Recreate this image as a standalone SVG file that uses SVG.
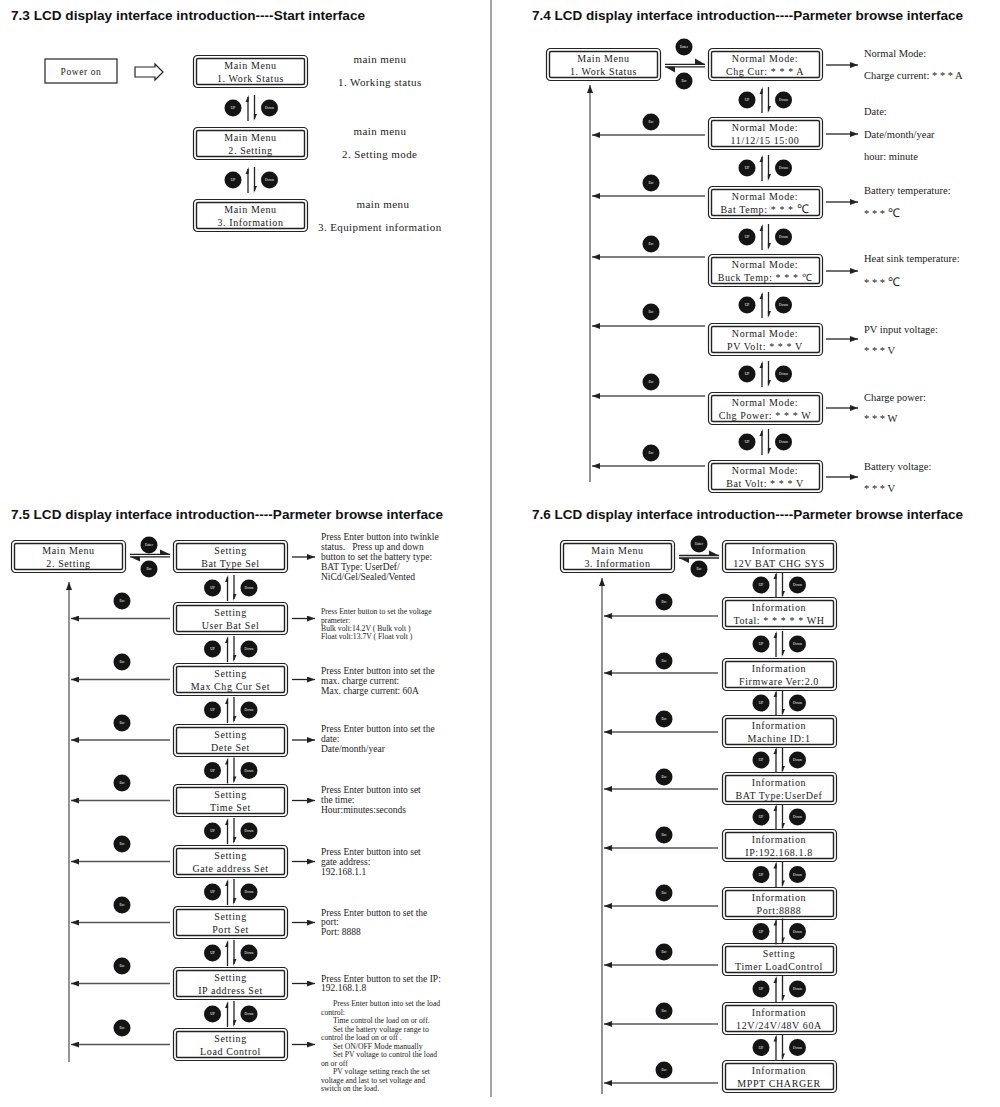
<svg xmlns="http://www.w3.org/2000/svg" xmlns:xlink="http://www.w3.org/1999/xlink" width="1000" height="1107" viewBox="0 0 1000 1107">
<style>
.ob{fill:#fff;stroke:#222;stroke-width:1.2}
.ib{fill:none;stroke:#222;stroke-width:1.4}
.bx{font-family:"Liberation Serif",serif;font-size:10px;fill:#222;text-anchor:middle;letter-spacing:0.6px}
.rt{font-family:"Liberation Serif",serif;font-size:10.5px;fill:#222}
.rm{font-family:"Liberation Serif",serif;font-size:11px;fill:#222;letter-spacing:0.4px}
.r5{font-family:"Liberation Serif",serif;font-size:9.5px;fill:#222}
.r7{font-family:"Liberation Serif",serif;font-size:7.7px;fill:#222}
.btn{fill:#141414}
.bt{font-family:"Liberation Serif",serif;font-size:3.6px;fill:#fff;text-anchor:middle}
.ti{font-family:"Liberation Sans",Arial,sans-serif;font-weight:bold;font-size:12.5px;fill:#111}
.ln{stroke:#222;stroke-width:1.3;fill:none}
.gl{stroke:#555;stroke-width:1.3;fill:none}
.vl{stroke:#888;stroke-width:1.8;fill:none}
.hd{fill:#222}
</style>
<defs>
<marker id="ah" viewBox="0 0 8 6" markerWidth="8" markerHeight="6" refX="8" refY="3" orient="auto" markerUnits="userSpaceOnUse"><path d="M0,0 L8,3 L0,6 z" fill="#222"/></marker>
<g id="lcd"><rect x="0.5" y="0.5" width="114" height="32" rx="4" class="ob"/><rect x="3.5" y="3.5" width="108" height="26" rx="1.5" class="ib"/></g>
<g id="ud">
<circle cx="-18" cy="0" r="8.5" class="btn"/><text x="-18" y="1.3" class="bt">UP</text>
<circle cx="18.5" cy="0" r="8.5" class="btn"/><text x="18.5" y="1.3" class="bt">Down</text>
<line x1="-3" y1="-11" x2="-3" y2="13" class="ln"/><path d="M-2.4,-13 L-5.5,-6 L-2.4,-6 z" class="hd"/>
<line x1="3.5" y1="-13" x2="3.5" y2="11" class="ln"/><path d="M2.9,13 L6,6 L2.9,6 z" class="hd"/>
</g>
<g id="esc"><circle r="8.5" class="btn"/><text y="1.3" class="bt">Esc</text></g>
<g id="ent"><circle r="8.5" class="btn"/><text y="1.3" class="bt">Enter</text></g>
</defs>
<rect width="1000" height="1107" fill="#fff"/>
<line x1="491" y1="0" x2="491" y2="1097" stroke="#888" stroke-width="1.5"/>

<!-- Titles -->
<text class="ti" x="11" y="20" textLength="354" lengthAdjust="spacingAndGlyphs">7.3 LCD display interface introduction----Start interface</text>
<text class="ti" x="532" y="20" textLength="431" lengthAdjust="spacingAndGlyphs">7.4 LCD display interface introduction----Parmeter browse interface</text>
<text class="ti" x="11" y="519" textLength="432" lengthAdjust="spacingAndGlyphs">7.5 LCD display interface introduction----Parmeter browse interface</text>
<text class="ti" x="532" y="519" textLength="431" lengthAdjust="spacingAndGlyphs">7.6 LCD display interface introduction----Parmeter browse interface</text>

<!-- ===== 7.3 ===== -->
<g id="s73-power"><rect x="45" y="59" width="72" height="24" fill="#fff" stroke="#222" stroke-width="1.2"/><text class="bx" x="81" y="74.5" style="font-size:9.5px">Power on</text></g>
<g id="s73-m1"><use xlink:href="#lcd" x="193" y="55"/><text class="bx" x="250.5" y="69">Main Menu</text><text class="bx" x="250.5" y="81.5">1. Work Status</text></g>
<g id="s73-m2"><use xlink:href="#lcd" x="193" y="127"/><text class="bx" x="250.5" y="141">Main Menu</text><text class="bx" x="250.5" y="153.5">2. Setting</text></g>
<g id="s73-m3"><use xlink:href="#lcd" x="193" y="199"/><text class="bx" x="250.5" y="213">Main Menu</text><text class="bx" x="250.5" y="225.5">3. Information</text></g>
<g id="s73-notes">
<text class="rm" x="380" y="63" text-anchor="middle">main menu</text>
<text class="rm" x="338" y="86">1.  Working status</text>
<text class="rm" x="380" y="135" text-anchor="middle">main menu</text>
<text class="rm" x="342" y="158">2.  Setting mode</text>
<text class="rm" x="383" y="208" text-anchor="middle">main menu</text>
<text class="rm" x="318" y="231">3.  Equipment information</text>
</g>

<!-- ===== 7.4 ===== -->
<g id="s74-main"><use xlink:href="#lcd" x="546" y="48"/><text class="bx" x="603.5" y="62">Main Menu</text><text class="bx" x="603.5" y="74.5">1. Work Status</text></g>
<g id="s74-n1"><use xlink:href="#lcd" x="708" y="48"/><text class="bx" x="765" y="62">Normal Mode:</text><text class="bx" x="765" y="74.5">Chg Cur: * * * A</text></g>
<g id="s74-n2"><use xlink:href="#lcd" x="708" y="117"/><text class="bx" x="765" y="131">Normal Mode:</text><text class="bx" x="765" y="143.5">11/12/15  15:00</text></g>
<g id="s74-n3"><use xlink:href="#lcd" x="708" y="186"/><text class="bx" x="765" y="200">Normal Mode:</text><text class="bx" x="765" y="212.5">Bat Temp: * * * <tspan style="font-size:12px">℃</tspan></text></g>
<g id="s74-n4"><use xlink:href="#lcd" x="708" y="254"/><text class="bx" x="765" y="268">Normal Mode:</text><text class="bx" x="765" y="280.5">Buck Temp: * * * ℃</text></g>
<g id="s74-n5"><use xlink:href="#lcd" x="708" y="323"/><text class="bx" x="765" y="337">Normal Mode:</text><text class="bx" x="765" y="349.5">PV Volt: * * * V</text></g>
<g id="s74-n6"><use xlink:href="#lcd" x="708" y="392"/><text class="bx" x="765" y="406">Normal Mode:</text><text class="bx" x="765" y="418.5">Chg Power: * * * W</text></g>
<g id="s74-n7"><use xlink:href="#lcd" x="708" y="460"/><text class="bx" x="765" y="474">Normal Mode:</text><text class="bx" x="765" y="486.5">Bat Volt: * * * V</text></g>
<g id="s74-notes">
<text class="rt" x="864" y="57">Normal Mode:</text>
<text class="rt" x="864" y="79">Charge current: * * * A</text>
<text class="rt" x="864" y="115">Date:</text>
<text class="rt" x="864" y="138">Date/month/year</text>
<text class="rt" x="864" y="160">hour: minute</text>
<text class="rt" x="864" y="194">Battery temperature:</text>
<text class="rt" x="864" y="217">* * *  <tspan style="font-size:12px">℃</tspan></text>
<text class="rt" x="864" y="262">Heat sink temperature:</text>
<text class="rt" x="864" y="286">* * *  <tspan style="font-size:12px">℃</tspan></text>
<text class="rt" x="864" y="333">PV input voltage:</text>
<text class="rt" x="864" y="354">* * *  V</text>
<text class="rt" x="864" y="401">Charge power:</text>
<text class="rt" x="864" y="422">* * *  W</text>
<text class="rt" x="864" y="470">Battery voltage:</text>
<text class="rt" x="864" y="492">* * *  V</text>
</g>

<!-- ===== 7.5 ===== -->
<g id="s75-main"><use xlink:href="#lcd" x="11" y="540"/><text class="bx" x="68.5" y="554">Main Menu</text><text class="bx" x="68.5" y="566.5">2. Setting</text></g>
<g id="s75-b1"><use xlink:href="#lcd" x="173" y="540"/><text class="bx" x="230.5" y="554">Setting</text><text class="bx" x="230.5" y="566.5">Bat Type Sel</text></g>
<g id="s75-b2"><use xlink:href="#lcd" x="173" y="602"/><text class="bx" x="230.5" y="616">Setting</text><text class="bx" x="230.5" y="628.5">User Bat Sel</text></g>
<g id="s75-b3"><use xlink:href="#lcd" x="173" y="663"/><text class="bx" x="230.5" y="677">Setting</text><text class="bx" x="230.5" y="689.5">Max Chg Cur Set</text></g>
<g id="s75-b4"><use xlink:href="#lcd" x="173" y="724"/><text class="bx" x="230.5" y="738">Setting</text><text class="bx" x="230.5" y="750.5">Dete Set</text></g>
<g id="s75-b5"><use xlink:href="#lcd" x="173" y="784"/><text class="bx" x="230.5" y="798">Setting</text><text class="bx" x="230.5" y="810.5">Time Set</text></g>
<g id="s75-b6"><use xlink:href="#lcd" x="173" y="845"/><text class="bx" x="230.5" y="859">Setting</text><text class="bx" x="230.5" y="871.5">Gate address Set</text></g>
<g id="s75-b7"><use xlink:href="#lcd" x="173" y="906"/><text class="bx" x="230.5" y="920">Setting</text><text class="bx" x="230.5" y="932.5">Port Set</text></g>
<g id="s75-b8"><use xlink:href="#lcd" x="173" y="967"/><text class="bx" x="230.5" y="981">Setting</text><text class="bx" x="230.5" y="993.5">IP address Set</text></g>
<g id="s75-b9"><use xlink:href="#lcd" x="173" y="1028"/><text class="bx" x="230.5" y="1042">Setting</text><text class="bx" x="230.5" y="1054.5">Load Control</text></g>
<g id="s75-notes">
<text class="r5" x="321" y="540">Press Enter button into twinkle</text>
<text class="r5" x="321" y="550" xml:space="preserve">status.   Press up and down</text>
<text class="r5" x="321" y="560">button to set the battery type:</text>
<text class="r5" x="321" y="570">BAT Type:  UserDef/</text>
<text class="r5" x="321" y="580">NiCd/Gel/Sealed/Vented</text>
<text class="r7" x="321" y="614">Press Enter button to set the voltage</text>
<text class="r7" x="321" y="623">prameter:</text>
<text class="r7" x="321" y="631">Bulk volt:14.2V ( Bulk volt )</text>
<text class="r7" x="321" y="639">Float volt:13.7V ( Float volt )</text>
<text class="r5" x="321" y="674">Press Enter button into set the</text>
<text class="r5" x="321" y="684">max. charge current:</text>
<text class="r5" x="321" y="694">Max. charge current:  60A</text>
<text class="r5" x="321" y="732">Press Enter button into set the</text>
<text class="r5" x="321" y="742">date:</text>
<text class="r5" x="321" y="752">Date/month/year</text>
<text class="r5" x="321" y="793">Press Enter button into set</text>
<text class="r5" x="321" y="803">the time:</text>
<text class="r5" x="321" y="813">Hour:minutes:seconds</text>
<text class="r5" x="321" y="855">Press Enter button into set</text>
<text class="r5" x="321" y="865">gate address:</text>
<text class="r5" x="321" y="875">192.168.1.1</text>
<text class="r5" x="321" y="916">Press Enter button to set the</text>
<text class="r5" x="321" y="925">port:</text>
<text class="r5" x="321" y="935">Port:  8888</text>
<text class="r5" x="321" y="982">Press Enter button to set the IP:</text>
<text class="r5" x="321" y="991">192.168.1.8</text>
<text class="r7" x="333" y="1006">Press Enter button into set the load</text>
<text class="r7" x="321" y="1015">control:</text>
<text class="r7" x="333" y="1023">Time control the load on or off.</text>
<text class="r7" x="333" y="1032">Set the battery voltage range to</text>
<text class="r7" x="321" y="1040">control the load on or off .</text>
<text class="r7" x="333" y="1049">Set ON/OFF Mode manually</text>
<text class="r7" x="333" y="1057">Set PV voltage to control the load</text>
<text class="r7" x="321" y="1066">on or off</text>
<text class="r7" x="333" y="1074">PV voltage setting reach the set</text>
<text class="r7" x="321" y="1083">voltage and last to set voltage and</text>
<text class="r7" x="321" y="1091">switch on the load.</text>
</g>

<!-- ===== 7.6 ===== -->
<g id="s76-main"><use xlink:href="#lcd" x="560" y="540"/><text class="bx" x="617.5" y="554">Main Menu</text><text class="bx" x="617.5" y="566.5">3. Information</text></g>
<g id="s76-i1"><use xlink:href="#lcd" x="722" y="540"/><text class="bx" x="779" y="554">Information</text><text class="bx" x="779" y="566.5">12V BAT CHG SYS</text></g>
<g id="s76-i2"><use xlink:href="#lcd" x="722" y="597"/><text class="bx" x="779" y="611">Information</text><text class="bx" x="779" y="623.5">Total: * * * * * WH</text></g>
<g id="s76-i3"><use xlink:href="#lcd" x="722" y="658"/><text class="bx" x="779" y="672">Information</text><text class="bx" x="779" y="684.5">Firmware Ver:2.0</text></g>
<g id="s76-i4"><use xlink:href="#lcd" x="722" y="715"/><text class="bx" x="779" y="729">Information</text><text class="bx" x="779" y="741.5">Machine ID:1</text></g>
<g id="s76-i5"><use xlink:href="#lcd" x="722" y="772"/><text class="bx" x="779" y="786">Information</text><text class="bx" x="779" y="798.5">BAT Type:UserDef</text></g>
<g id="s76-i6"><use xlink:href="#lcd" x="722" y="829"/><text class="bx" x="779" y="843">Information</text><text class="bx" x="779" y="855.5">IP:192.168.1.8</text></g>
<g id="s76-i7"><use xlink:href="#lcd" x="722" y="887"/><text class="bx" x="779" y="901">Information</text><text class="bx" x="779" y="913.5">Port:8888</text></g>
<g id="s76-i8"><use xlink:href="#lcd" x="722" y="943"/><text class="bx" x="779" y="957">Setting</text><text class="bx" x="779" y="969.5">Timer LoadControl</text></g>
<g id="s76-i9"><use xlink:href="#lcd" x="722" y="1002"/><text class="bx" x="779" y="1016">Information</text><text class="bx" x="779" y="1028.5">12V/24V/48V 60A</text></g>
<g id="s76-i10"><use xlink:href="#lcd" x="722" y="1060"/><text class="bx" x="779" y="1074">Information</text><text class="bx" x="779" y="1086.5">MPPT CHARGER</text></g>

<!-- ===== Connectors ===== -->
<g id="connectors">
<!-- 7.3 -->
<polygon points="135,67 155,67 155,64 163,72 155,80 155,77 135,77" fill="#fff" stroke="#222" stroke-width="1.2"/>
<use xlink:href="#ud" x="251" y="108"/>
<use xlink:href="#ud" x="251" y="180"/>

<!-- 7.4 -->
<use xlink:href="#ent" x="684" y="47"/>
<use xlink:href="#esc" x="684" y="81"/>
<line x1="665" y1="64.3" x2="705" y2="64.3" class="ln"/><path d="M695,58.5 L705,64.3 L695,64.3 z" class="hd"/>
<line x1="665" y1="66.8" x2="705" y2="66.8" class="ln"/><path d="M665,66.8 L675,66.8 L675,72.5 z" class="hd"/>
<use xlink:href="#ud" x="765" y="100"/>
<use xlink:href="#ud" x="765" y="168"/>
<use xlink:href="#ud" x="765" y="237"/>
<use xlink:href="#ud" x="765" y="305"/>
<use xlink:href="#ud" x="765" y="374"/>
<use xlink:href="#ud" x="765" y="442"/>
<use xlink:href="#esc" x="651" y="122"/>
<use xlink:href="#esc" x="651" y="183"/>
<use xlink:href="#esc" x="651" y="244"/>
<use xlink:href="#esc" x="651" y="312"/>
<use xlink:href="#esc" x="651" y="382"/>
<use xlink:href="#esc" x="651" y="453"/>
<line x1="705" y1="135" x2="592" y2="135" class="gl" marker-end="url(#ah)"/>
<line x1="705" y1="196" x2="592" y2="196" class="gl" marker-end="url(#ah)"/>
<line x1="705" y1="257" x2="592" y2="257" class="gl" marker-end="url(#ah)"/>
<line x1="705" y1="326" x2="592" y2="326" class="gl" marker-end="url(#ah)"/>
<line x1="705" y1="396" x2="592" y2="396" class="gl" marker-end="url(#ah)"/>
<line x1="705" y1="466" x2="592" y2="466" class="gl" marker-end="url(#ah)"/>
<line x1="590" y1="482" x2="590" y2="85" class="vl" marker-end="url(#ah)"/>
<line x1="826" y1="65" x2="858" y2="65" class="ln" marker-end="url(#ah)"/>
<line x1="826" y1="134" x2="858" y2="134" class="ln" marker-end="url(#ah)"/>
<line x1="826" y1="202" x2="858" y2="202" class="ln" marker-end="url(#ah)"/>
<line x1="826" y1="271" x2="858" y2="271" class="ln" marker-end="url(#ah)"/>
<line x1="826" y1="339" x2="858" y2="339" class="ln" marker-end="url(#ah)"/>
<line x1="826" y1="408" x2="858" y2="408" class="ln" marker-end="url(#ah)"/>
<line x1="826" y1="477" x2="858" y2="477" class="ln" marker-end="url(#ah)"/>

<!-- 7.5 -->
<use xlink:href="#ent" x="149" y="545"/>
<use xlink:href="#esc" x="149" y="569"/>
<line x1="130" y1="554.3" x2="170" y2="554.3" class="ln"/><path d="M160,549.5 L170,554.3 L160,554.3 z" class="hd"/>
<line x1="130" y1="556.8" x2="170" y2="556.8" class="ln"/><path d="M130,556.8 L140,556.8 L140,561.5 z" class="hd"/>
<use xlink:href="#ud" x="230.5" y="588"/>
<use xlink:href="#ud" x="230.5" y="649"/>
<use xlink:href="#ud" x="230.5" y="710"/>
<use xlink:href="#ud" x="230.5" y="770.5"/>
<use xlink:href="#ud" x="230.5" y="831"/>
<use xlink:href="#ud" x="230.5" y="892"/>
<use xlink:href="#ud" x="230.5" y="953"/>
<use xlink:href="#ud" x="230.5" y="1014"/>
<use xlink:href="#esc" x="122" y="601"/>
<use xlink:href="#esc" x="122" y="662"/>
<use xlink:href="#esc" x="122" y="723"/>
<use xlink:href="#esc" x="122" y="783"/>
<use xlink:href="#esc" x="122" y="844"/>
<use xlink:href="#esc" x="122" y="905"/>
<use xlink:href="#esc" x="122" y="966"/>
<use xlink:href="#esc" x="122" y="1028"/>
<line x1="170" y1="618.5" x2="71" y2="618.5" class="gl" marker-end="url(#ah)"/>
<line x1="170" y1="679.5" x2="71" y2="679.5" class="gl" marker-end="url(#ah)"/>
<line x1="170" y1="740" x2="71" y2="740" class="gl" marker-end="url(#ah)"/>
<line x1="170" y1="800.5" x2="71" y2="800.5" class="gl" marker-end="url(#ah)"/>
<line x1="170" y1="861.5" x2="71" y2="861.5" class="gl" marker-end="url(#ah)"/>
<line x1="170" y1="922.5" x2="71" y2="922.5" class="gl" marker-end="url(#ah)"/>
<line x1="170" y1="983.5" x2="71" y2="983.5" class="gl" marker-end="url(#ah)"/>
<line x1="170" y1="1044.5" x2="71" y2="1044.5" class="gl" marker-end="url(#ah)"/>
<line x1="69" y1="1062" x2="69" y2="582" class="vl" marker-end="url(#ah)"/>
<line x1="292" y1="557" x2="315" y2="557" class="ln" marker-end="url(#ah)"/>
<line x1="292" y1="618.5" x2="315" y2="618.5" class="ln" marker-end="url(#ah)"/>
<line x1="292" y1="679.5" x2="315" y2="679.5" class="ln" marker-end="url(#ah)"/>
<line x1="292" y1="740" x2="315" y2="740" class="ln" marker-end="url(#ah)"/>
<line x1="292" y1="800.5" x2="315" y2="800.5" class="ln" marker-end="url(#ah)"/>
<line x1="292" y1="861.5" x2="315" y2="861.5" class="ln" marker-end="url(#ah)"/>
<line x1="292" y1="922.5" x2="315" y2="922.5" class="ln" marker-end="url(#ah)"/>
<line x1="292" y1="983.5" x2="315" y2="983.5" class="ln" marker-end="url(#ah)"/>
<line x1="292" y1="1044.5" x2="315" y2="1044.5" class="ln" marker-end="url(#ah)"/>

<!-- 7.6 -->
<use xlink:href="#ent" x="699" y="544"/>
<use xlink:href="#esc" x="699" y="569"/>
<line x1="679" y1="555.5" x2="719" y2="555.5" class="ln"/><path d="M709,550.5 L719,555.5 L709,555.5 z" class="hd"/>
<line x1="679" y1="558" x2="719" y2="558" class="ln"/><path d="M679,558 L689,558 L689,563 z" class="hd"/>
<use xlink:href="#ud" x="779" y="585"/>
<use xlink:href="#ud" x="779" y="644"/>
<use xlink:href="#ud" x="779" y="703"/>
<use xlink:href="#ud" x="779" y="760"/>
<use xlink:href="#ud" x="779" y="817"/>
<use xlink:href="#ud" x="779" y="874.5"/>
<use xlink:href="#ud" x="779" y="931.5"/>
<use xlink:href="#ud" x="779" y="989"/>
<use xlink:href="#ud" x="779" y="1047.5"/>
<use xlink:href="#esc" x="664" y="602"/>
<use xlink:href="#esc" x="664" y="661"/>
<use xlink:href="#esc" x="664" y="719"/>
<use xlink:href="#esc" x="664" y="777"/>
<use xlink:href="#esc" x="664" y="835"/>
<use xlink:href="#esc" x="664" y="893"/>
<use xlink:href="#esc" x="664" y="952"/>
<use xlink:href="#esc" x="664" y="1011"/>
<use xlink:href="#esc" x="664" y="1070"/>
<line x1="718" y1="616" x2="604" y2="616" class="gl" marker-end="url(#ah)"/>
<line x1="718" y1="673" x2="604" y2="673" class="gl" marker-end="url(#ah)"/>
<line x1="718" y1="732" x2="604" y2="732" class="gl" marker-end="url(#ah)"/>
<line x1="718" y1="789" x2="604" y2="789" class="gl" marker-end="url(#ah)"/>
<line x1="718" y1="848" x2="604" y2="848" class="gl" marker-end="url(#ah)"/>
<line x1="718" y1="906" x2="604" y2="906" class="gl" marker-end="url(#ah)"/>
<line x1="718" y1="965" x2="604" y2="965" class="gl" marker-end="url(#ah)"/>
<line x1="718" y1="1024" x2="604" y2="1024" class="gl" marker-end="url(#ah)"/>
<line x1="718" y1="1083" x2="604" y2="1083" class="gl" marker-end="url(#ah)"/>
<line x1="602" y1="1094" x2="602" y2="578" class="vl" marker-end="url(#ah)"/>
</g>
</svg>
